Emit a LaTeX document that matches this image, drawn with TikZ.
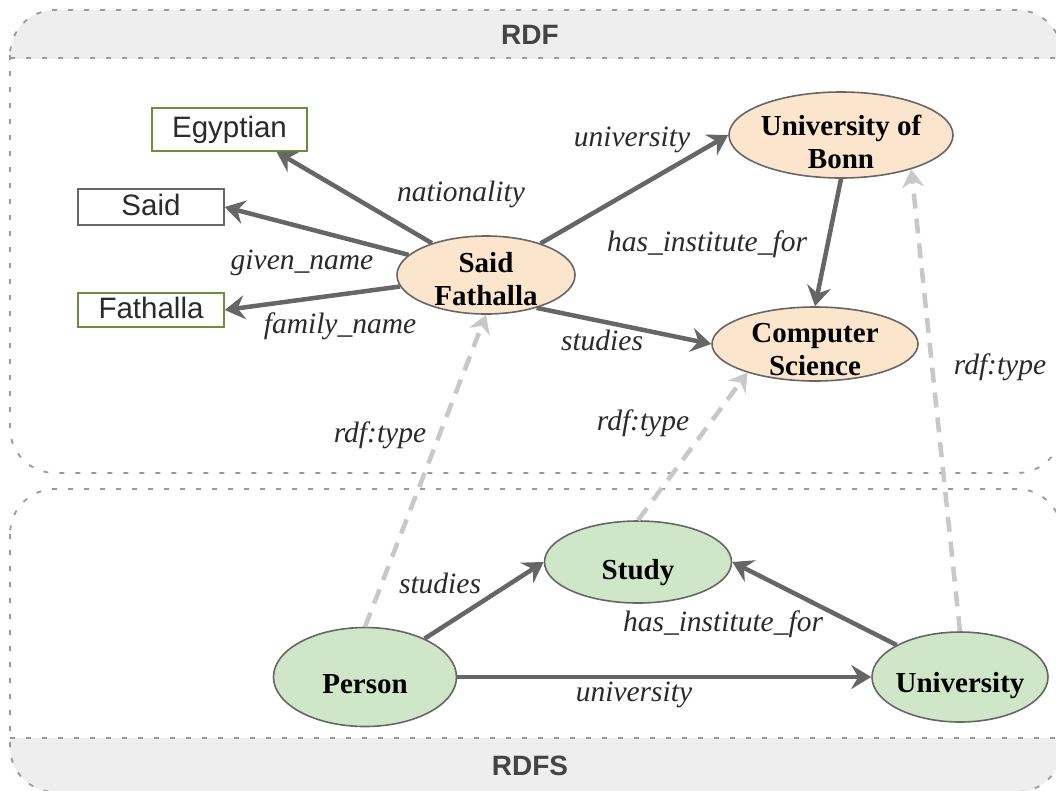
\documentclass[tikz,border=0pt]{standalone}
\usepackage{fontspec}
\setmainfont{Liberation Serif}
\newfontfamily\sansf{Liberation Sans}
\usetikzlibrary{arrows.meta,shapes.geometric}

\definecolor{edgegray}{HTML}{666666}
\definecolor{typegray}{HTML}{C8C8C8}
\definecolor{panelline}{HTML}{9A9A9A}
\definecolor{bandfill}{HTML}{EEEEEE}
\definecolor{instfill}{HTML}{FCE5CD}
\definecolor{classfill}{HTML}{D0E6C9}
\definecolor{litgreen}{HTML}{6B8E3A}
\definecolor{txtdark}{HTML}{2A2A2A}
\definecolor{hdrtext}{HTML}{444444}

\tikzset{
  panel/.style={draw=panelline, line width=1.8pt, dash pattern=on 5pt off 11pt},
  lit/.style={draw, line width=1.6pt, fill=white, inner sep=0pt,
    font=\sansf\fontsize{29.5}{30}\selectfont, text=txtdark,
    text height=19pt, text depth=3pt},
  inst/.style={ellipse, draw=edgegray, line width=1.6pt, fill=instfill, inner sep=0pt},
  cls/.style={ellipse, draw=edgegray, line width=1.6pt, fill=classfill, inner sep=0pt},
  ntext/.style={font=\bfseries\fontsize{29}{33}\selectfont, align=center, inner sep=0pt},
  prop/.style={font=\itshape\fontsize{29.5}{31}\selectfont, text=txtdark, inner sep=0pt, anchor=base},
  rel/.style={draw=edgegray, line width=4.5pt, -{Stealth[length=20pt,width=24pt,inset=7pt]}},
  isa/.style={draw=typegray, line width=4.5pt, dash pattern=on 15pt off 10pt,
    -{Stealth[length=18pt,width=22pt,inset=6pt]}},
  hdr/.style={font=\sansf\bfseries\fontsize{28}{30}\selectfont, text=hdrtext, inner sep=0pt},
}

\begin{document}
\begin{tikzpicture}[x=1pt,y=-1pt]
\useasboundingbox (0,0) rectangle (1056,790);
\clip (0,0) rectangle (1056,790);

% RDF panel with header band
\fill[white, rounded corners=45pt] (10,10) rectangle (1062,473);
\begin{scope}
  \clip (0,0) rectangle (1070,58);
  \fill[bandfill, rounded corners=45pt] (10,10) rectangle (1062,473);
\end{scope}
\draw[panel, rounded corners=45pt] (10,10) rectangle (1062,473);
\draw[panel] (10,58) -- (1062,58);
\node[hdr] (rdfhdr) at (530,35) {RDF};

% RDFS panel with footer band
\begin{scope}
  \clip (0,738) rectangle (1070,800);
  \fill[bandfill, rounded corners=45pt] (10,489) rectangle (1062,792);
\end{scope}
\draw[panel, rounded corners=45pt] (10,489) rectangle (1062,792);
\draw[panel] (10,738) -- (1062,738);
\node[hdr] (rdfshdr) at (530,766) {RDFS};

% literals
\node[lit, draw=litgreen, minimum width=155pt, minimum height=43pt] (egy) at (229.5,129.5) {Egyptian};
\node[lit, draw=edgegray, minimum width=146pt, minimum height=36pt] (sa) at (151,207) {Said};
\node[lit, draw=litgreen, minimum width=146pt, minimum height=34pt] (fa) at (151,310) {Fathalla};

% instances
\node[inst, minimum width=178pt, minimum height=78pt] (sf) at (486,275) {};
\node[ntext] (sft) at (486,279) {Said\\Fathalla};
\node[inst, minimum width=224pt, minimum height=86pt] (uob) at (841,135) {};
\node[ntext] (uobt) at (841,142) {University of\\Bonn};
\node[inst, minimum width=206pt, minimum height=74pt] (cs) at (815,344) {};
\node[ntext] (cst) at (815,350) {Computer\\Science};

% classes
\node[cls, minimum width=187pt, minimum height=82pt] (st) at (638,562) {};
\node[ntext, anchor=base] (stt) at (638,579) {Study};
\node[cls, minimum width=183pt, minimum height=99pt] (pe) at (365,677) {};
\node[ntext, anchor=base] (pet) at (365,693) {Person};
\node[cls, minimum width=176pt, minimum height=90pt] (un) at (960,677) {};
\node[ntext, anchor=base] (unt) at (960,692) {University};

% instance relations
\draw[rel] (sf) -- ([xshift=47pt]egy.south);
\draw[rel] (sf) -- (sa.east);
\draw[rel] (sf) -- (fa.east);
\draw[rel] (sf) -- (uob.west);
\draw[rel] (sf.-33) -- (cs.west);
\draw[rel] (uob.south) -- (cs.north);

% class relations
\draw[rel] (pe) -- (st.west);
\draw[rel] (un) -- (st.east);
\draw[rel] (pe.east) -- (un.west);

% typing
\draw[isa] (pe.north) -- (sf.south);
\draw[isa] (st.north) -- (cs.203);
\draw[isa] (un.north) -- (uob.-26);

% property labels
\node[prop] (l1) at (632,146) {university};
\node[prop] (l2) at (461,201) {nationality};
\node[prop] (l3) at (302,269) {given\_name};
\node[prop] (l4) at (340,333) {family\_name};
\node[prop] (l5) at (707,251) {has\_institute\_for};
\node[prop] (l6) at (602,350) {studies};
\node[prop] (l7) at (380,442) {rdf:type};
\node[prop] (l8) at (643,430) {rdf:type};
\node[prop] (l9) at (1000,374) {rdf:type};
\node[prop] (l10) at (440,593) {studies};
\node[prop] (l11) at (723,631) {has\_institute\_for};
\node[prop] (l12) at (634,701) {university};
\end{tikzpicture}
\end{document}
